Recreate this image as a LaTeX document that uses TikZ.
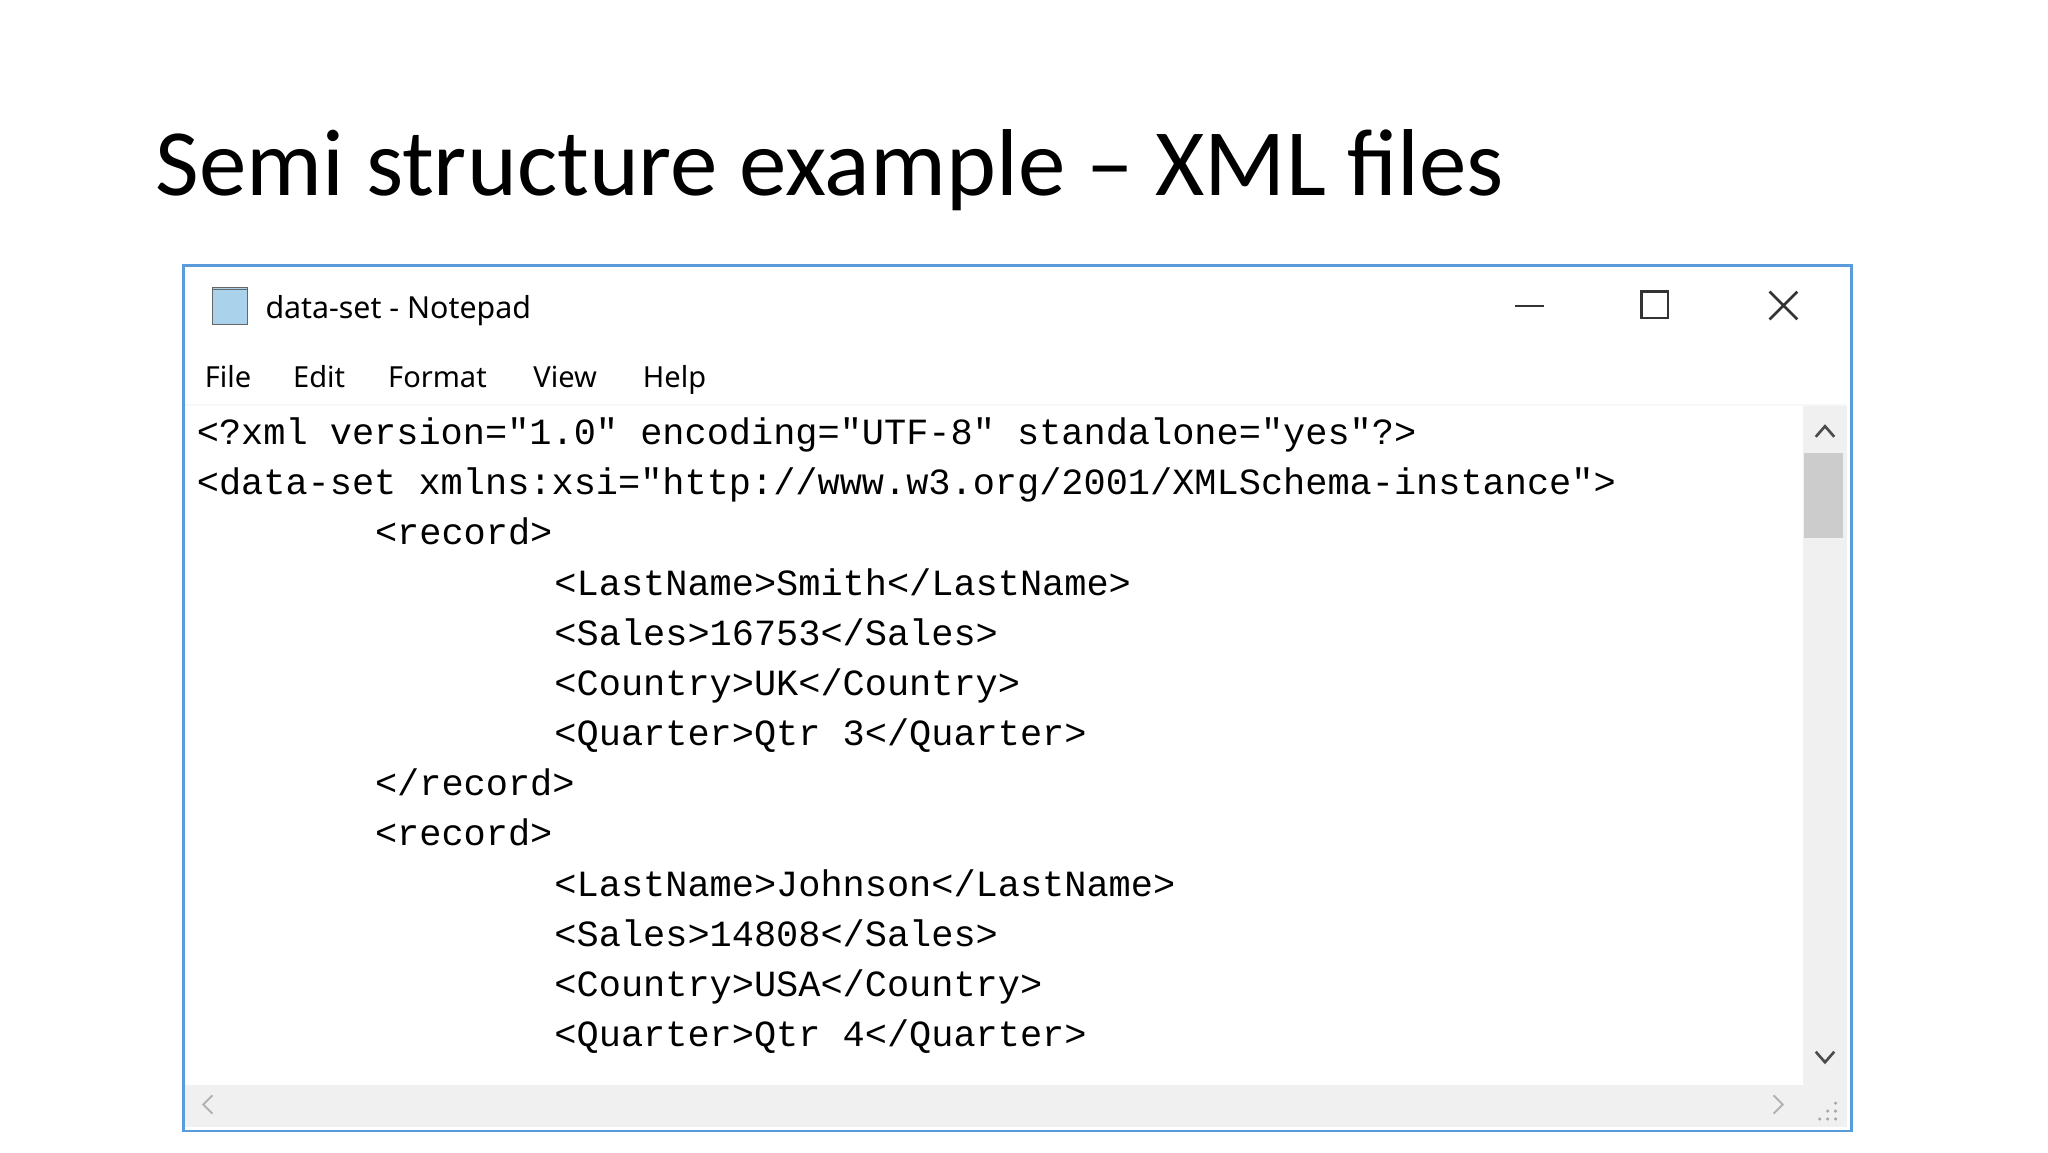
\documentclass[tikz,border=0pt]{standalone}
\usepackage{fontspec}
\setmainfont{Carlito}
\newfontfamily\ui{Noto Sans}
\newfontfamily\mono{Liberation Mono}
\begin{document}
\begin{tikzpicture}[x=1pt,y=-1pt,
  code/.style={anchor=base west,inner sep=0,font=\mono\fontsize{28}{30}\selectfont},
  menu/.style={anchor=base west,inner sep=0,font=\ui\fontsize{22}{24}\selectfont},
  ctl/.style={line width=2pt,black!80}]
\useasboundingbox (0,0) rectangle (1552,873);
\fill[white] (0,0) rectangle (1552,873);
\node[anchor=base west,inner sep=0,font=\fontsize{72}{74}\selectfont] (title) at (118,148) {Semi structure example – XML files};
% window
\node[draw={rgb,255:red,90;green,155;blue,220},line width=2pt,minimum width=1264,minimum height=656,anchor=north west,inner sep=0] (win) at (138,200) {};
\fill[black!3] (140,306) rectangle (1400,308);
% icon
\node[draw=black!60,fill={rgb,255:red,170;green,210;blue,235},minimum width=26,minimum height=28,inner sep=0] (icon) at (174,232) {};
\draw[black!60] (161,219) -- (187,219);
\node[menu,font=\ui\fontsize{23}{24}\selectfont] (wt) at (201,241) {data-set - Notepad};
\draw[ctl] (1148,232) -- (1170,232);
\node[draw=black!80,line width=2pt,minimum size=20,inner sep=0] (maxb) at (1254,231) {};
\draw[ctl] (1341,221) -- (1362,242) (1341,242) -- (1362,221);
\node[menu] (m1) at (155,294) {File};
\node[menu] (m2) at (222,294) {Edit};
\node[menu] (m3) at (294,294) {Format};
\node[menu] (m4) at (404,294) {View};
\node[menu] (m5) at (487,294) {Help};
% scrollbars
\fill[black!6] (1366,308) rectangle (1400,822);
\fill[black!20] (1367,343) rectangle (1397,408);
\draw[black!70,line width=2pt] (1376,331) -- (1383,323) -- (1390,331);
\draw[black!70,line width=2pt] (1376,797) -- (1383,805) -- (1390,797);
\fill[black!6] (140,822) rectangle (1400,854);
\draw[black!30,line width=1.5pt] (161,830) -- (154,837) -- (161,844);
\draw[black!30,line width=1.5pt] (1344,830) -- (1351,837) -- (1344,844);
\foreach \p in {(1391,848),(1385,848),(1379,848),(1391,842),(1385,842),(1391,836)} \fill[black!35] \p circle (1.3);
% code
\node[code] (l1) at (149,337) {<?xml version="1.0" encoding="UTF-8" standalone="yes"?>};
\node[code] (l2) at (149,375) {<data-set xmlns:xsi="http://www.w3.org/2001/XMLSchema-instance">};
\node[code] (l3) at (284,413) {<record>};
\node[code] (l4) at (420,451) {<LastName>Smith</LastName>};
\node[code] (l5) at (420,489) {<Sales>16753</Sales>};
\node[code] (l6) at (420,527) {<Country>UK</Country>};
\node[code] (l7) at (420,565) {<Quarter>Qtr 3</Quarter>};
\node[code] (l8) at (284,603) {</record>};
\node[code] (l9) at (284,641) {<record>};
\node[code] (l10) at (420,679) {<LastName>Johnson</LastName>};
\node[code] (l11) at (420,717) {<Sales>14808</Sales>};
\node[code] (l12) at (420,755) {<Country>USA</Country>};
\node[code] (l13) at (420,793) {<Quarter>Qtr 4</Quarter>};
\end{tikzpicture}
\end{document}
